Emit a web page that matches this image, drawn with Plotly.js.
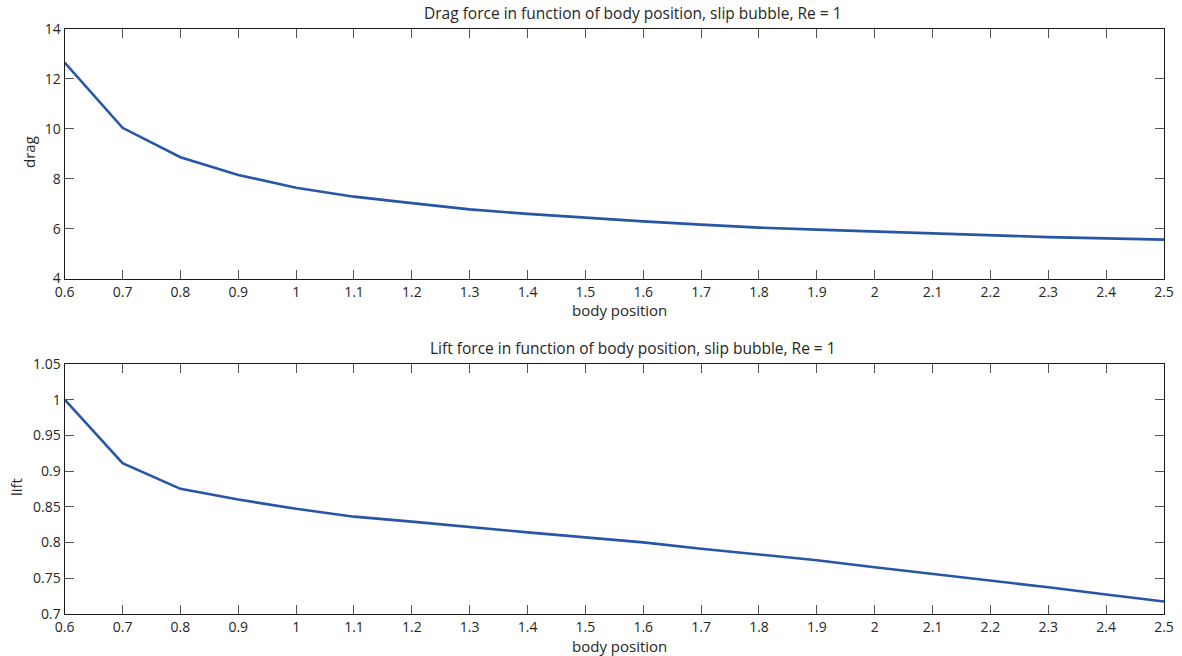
<!DOCTYPE html>
<html>
<head>
<meta charset="utf-8">
<script src="https://cdn.plot.ly/plotly-3.0.1.min.js"></script>
<style>
  html, body { margin: 0; padding: 0; background: #fff; }
  #chart { width: 1182px; height: 656px; }
</style>
</head>
<body>
<div id="chart"></div>
<script>
// Body positions sampled along the channel
const bodyPosition = [0.6, 0.7, 0.8, 0.9, 1.0, 1.1, 1.2, 1.3, 1.4, 1.5,
                      1.6, 1.7, 1.8, 1.9, 2.0, 2.1, 2.2, 2.3, 2.4, 2.5];

// Drag force on the slip bubble, Re = 1
const drag = [12.65, 10.04, 8.86, 8.15, 7.64, 7.28, 7.02, 6.77, 6.59, 6.43,
              6.29, 6.16, 6.04, 5.96, 5.88, 5.80, 5.73, 5.66, 5.61, 5.56];

// Lift force on the slip bubble, Re = 1
const lift = [1.000, 0.911, 0.875, 0.860, 0.847, 0.836, 0.829, 0.821, 0.814, 0.807,
              0.800, 0.791, 0.783, 0.775, 0.765, 0.756, 0.747, 0.737, 0.727, 0.717];

// Tick positions and labels
const xTickVals = [0.6, 0.7, 0.8, 0.9, 1.0, 1.1, 1.2, 1.3, 1.4, 1.5,
                   1.6, 1.7, 1.8, 1.9, 2.0, 2.1, 2.2, 2.3, 2.4, 2.5];
const xTickText = ['0.6', '0.7', '0.8', '0.9', '1', '1.1', '1.2', '1.3', '1.4', '1.5',
                   '1.6', '1.7', '1.8', '1.9', '2', '2.1', '2.2', '2.3', '2.4', '2.5'];
const dragTickVals = [4, 6, 8, 10, 12, 14];
const dragTickText = ['4', '6', '8', '10', '12', '14'];
const liftTickVals = [0.7, 0.75, 0.8, 0.85, 0.9, 0.95, 1.0, 1.05];
const liftTickText = ['0.7', '0.75', '0.8', '0.85', '0.9', '0.95', '1', '1.05'];

const titles = {
  drag: 'Drag force in function of body position, slip bubble, Re = 1',
  lift: 'Lift force in function of body position, slip bubble, Re = 1',
  x: 'body position',
  dragY: 'drag',
  liftY: 'lift'
};

const lineStyle = { color: '#2756a6', width: 2.6 };
const fontFamily = '"Open Sans", "DejaVu Sans", sans-serif';
const textColor = '#262626';

const traces = [
  { x: bodyPosition, y: drag, xaxis: 'x', yaxis: 'y', mode: 'lines', line: lineStyle, hoverinfo: 'x+y' },
  { x: bodyPosition, y: lift, xaxis: 'x2', yaxis: 'y2', mode: 'lines', line: lineStyle, hoverinfo: 'x+y' }
];

function axisBase() {
  return {
    showgrid: false,
    zeroline: false,
    showline: true,
    linecolor: '#1a1a1a',
    linewidth: 1.2,
    mirror: 'ticks',
    ticks: 'inside',
    ticklen: 9,
    tickwidth: 1,
    tickcolor: '#555555',
    tickfont: { family: fontFamily, size: 14, color: textColor },
    fixedrange: true
  };
}

const xDomain = [64.7 / 1182, 1164 / 1182];

const layout = {
  width: 1182,
  height: 656,
  margin: { l: 0, r: 0, t: 0, b: 0 },
  paper_bgcolor: '#ffffff',
  plot_bgcolor: '#ffffff',
  showlegend: false,
  xaxis: Object.assign(axisBase(), {
    domain: xDomain, anchor: 'y', range: [0.6, 2.5],
    tickmode: 'array', tickvals: xTickVals, ticktext: xTickText
  }),
  yaxis: Object.assign(axisBase(), {
    domain: [1 - 278.5 / 656, 1 - 29 / 656], anchor: 'x', range: [4, 14],
    tickmode: 'array', tickvals: dragTickVals, ticktext: dragTickText
  }),
  xaxis2: Object.assign(axisBase(), {
    domain: xDomain, anchor: 'y2', range: [0.6, 2.5],
    tickmode: 'array', tickvals: xTickVals, ticktext: xTickText
  }),
  yaxis2: Object.assign(axisBase(), {
    domain: [1 - 613.7 / 656, 1 - 364 / 656], anchor: 'x2', range: [0.7, 1.05],
    tickmode: 'array', tickvals: liftTickVals, ticktext: liftTickText
  }),
  annotations: [
    { text: titles.drag, x: 633 / 1182, y: 1 - 13 / 656, size: 15.5 },
    { text: titles.lift, x: 633 / 1182, y: 1 - 348 / 656, size: 15.5 },
    { text: titles.x, x: 619 / 1182, y: 1 - 310 / 656, size: 15 },
    { text: titles.x, x: 619 / 1182, y: 1 - 645.5 / 656, size: 15 },
    { text: titles.dragY, x: 29 / 1182, y: 1 - 152 / 656, textangle: -90, size: 15 },
    { text: titles.liftY, x: 16 / 1182, y: 1 - 487 / 656, textangle: -90, size: 15 }
  ].map(a => {
    const size = a.size;
    delete a.size;
    return Object.assign({
      xref: 'paper', yref: 'paper', showarrow: false,
      xanchor: 'center', yanchor: 'middle', borderpad: 0,
      font: { family: fontFamily, size: size, color: textColor }
    }, a);
  })
};

Plotly.newPlot('chart', traces, layout, { displayModeBar: false, staticPlot: true });
</script>
</body>
</html>
